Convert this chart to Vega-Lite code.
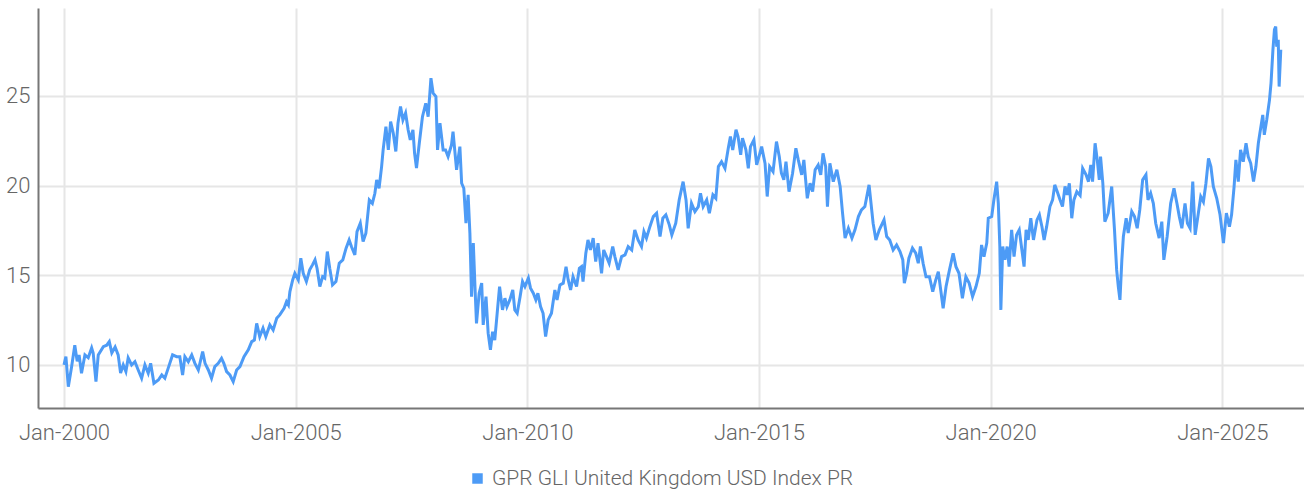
{
  "$schema": "https://vega.github.io/schema/vega-lite/v6.json",
  "width": 1266,
  "height": 400,
  "autosize": {"type": "none"},
  "padding": {"left": 38, "top": 8, "right": 0, "bottom": 85},
  "background": "white",
  "config": {
    "view": {"stroke": null},
    "font": "Roboto",
    "axis": {"labelFont": "Roboto", "labelFontWeight": 300, "labelColor": "#666666", "labelFontSize": 22, "ticks": false, "domainColor": "#777777", "domainWidth": 2, "gridColor": "#e6e6e6", "gridWidth": 2},
    "legend": {"labelFont": "Roboto", "labelFontWeight": 300, "labelColor": "#666666", "labelFontSize": 21, "labelLimit": 0}
  },
  "data": {"values": [
    {"date":"2000-01-01","v":10.0},{"date":"2000-01-16","v":10.46},{"date":"2000-02-04","v":8.79},{"date":"2000-03-01","v":9.9},{"date":"2000-03-26","v":11.1},{"date":"2000-04-14","v":10.2},{"date":"2000-04-29","v":10.56},{"date":"2000-05-18","v":9.54},{"date":"2000-06-14","v":10.56},{"date":"2000-07-10","v":10.4},{"date":"2000-08-06","v":10.95},{"date":"2000-08-18","v":10.67},{"date":"2000-09-09","v":9.07},{"date":"2000-09-27","v":10.56},{"date":"2000-11-06","v":11.02},{"date":"2000-12-03","v":11.1},{"date":"2000-12-23","v":11.3},
    {"date":"2001-01-12","v":10.67},{"date":"2001-02-07","v":11.0},{"date":"2001-03-03","v":10.56},{"date":"2001-03-22","v":9.55},{"date":"2001-04-12","v":10.0},{"date":"2001-05-03","v":9.63},{"date":"2001-05-21","v":10.39},{"date":"2001-06-17","v":10.0},{"date":"2001-07-13","v":10.18},{"date":"2001-08-08","v":9.72},{"date":"2001-09-04","v":9.26},{"date":"2001-09-30","v":10.0},{"date":"2001-10-26","v":9.54},{"date":"2001-11-14","v":10.09},{"date":"2001-12-10","v":8.98},
    {"date":"2002-01-14","v":9.16},{"date":"2002-02-10","v":9.44},{"date":"2002-03-06","v":9.26},{"date":"2002-04-01","v":9.81},{"date":"2002-05-06","v":10.56},{"date":"2002-06-07","v":10.46},{"date":"2002-07-02","v":10.46},{"date":"2002-07-24","v":9.44},{"date":"2002-08-11","v":10.46},{"date":"2002-09-07","v":10.18},{"date":"2002-10-04","v":10.56},{"date":"2002-10-29","v":10.09},{"date":"2002-11-25","v":9.72},{"date":"2002-12-29","v":10.74},
    {"date":"2003-01-17","v":10.09},{"date":"2003-02-12","v":9.72},{"date":"2003-03-09","v":9.26},{"date":"2003-04-04","v":9.91},{"date":"2003-05-01","v":10.09},{"date":"2003-05-27","v":10.37},{"date":"2003-06-14","v":10.09},{"date":"2003-07-06","v":9.63},{"date":"2003-08-01","v":9.44},{"date":"2003-08-27","v":9.07},{"date":"2003-09-23","v":9.72},{"date":"2003-10-19","v":9.91},{"date":"2003-11-20","v":10.46},{"date":"2003-12-24","v":10.84},
    {"date":"2004-01-20","v":11.3},{"date":"2004-02-10","v":11.39},{"date":"2004-02-28","v":12.32},{"date":"2004-03-23","v":11.58},{"date":"2004-04-18","v":12.05},{"date":"2004-05-10","v":11.58},{"date":"2004-06-11","v":12.23},{"date":"2004-07-07","v":11.95},{"date":"2004-08-04","v":12.6},{"date":"2004-08-28","v":12.79},{"date":"2004-10-01","v":13.16},{"date":"2004-10-20","v":13.53},{"date":"2004-11-04","v":13.35},{"date":"2004-11-16","v":14.09},{"date":"2004-12-08","v":14.74},{"date":"2004-12-25","v":15.11},
    {"date":"2005-01-21","v":14.74},{"date":"2005-02-10","v":15.95},{"date":"2005-03-01","v":15.11},{"date":"2005-03-26","v":14.65},{"date":"2005-04-21","v":15.3},{"date":"2005-05-13","v":15.58},{"date":"2005-06-02","v":15.86},{"date":"2005-06-18","v":15.39},{"date":"2005-07-10","v":14.37},{"date":"2005-08-01","v":14.92},{"date":"2005-08-18","v":14.84},{"date":"2005-09-07","v":16.32},{"date":"2005-09-26","v":15.39},{"date":"2005-10-18","v":14.46},{"date":"2005-11-14","v":14.65},{"date":"2005-12-10","v":15.67},
    {"date":"2006-01-07","v":15.86},{"date":"2006-02-02","v":16.51},{"date":"2006-02-26","v":16.97},{"date":"2006-03-16","v":16.6},{"date":"2006-04-12","v":16.14},{"date":"2006-04-29","v":17.43},{"date":"2006-05-25","v":17.9},{"date":"2006-06-16","v":16.88},{"date":"2006-07-08","v":17.35},{"date":"2006-08-04","v":19.2},{"date":"2006-08-28","v":19.01},{"date":"2006-09-17","v":19.57},{"date":"2006-10-01","v":20.32},{"date":"2006-10-20","v":19.85},{"date":"2006-11-09","v":21.06},{"date":"2006-11-21","v":21.99},{"date":"2006-12-13","v":23.29},
    {"date":"2007-01-01","v":21.99},{"date":"2007-01-19","v":23.57},{"date":"2007-02-09","v":22.92},{"date":"2007-03-01","v":21.9},{"date":"2007-03-18","v":23.48},{"date":"2007-04-07","v":24.41},{"date":"2007-04-26","v":23.66},{"date":"2007-05-17","v":24.04},{"date":"2007-06-06","v":23.11},{"date":"2007-06-23","v":22.55},{"date":"2007-07-14","v":23.11},{"date":"2007-07-27","v":21.8},{"date":"2007-08-11","v":20.97},{"date":"2007-09-02","v":22.36},{"date":"2007-09-27","v":23.84},{"date":"2007-10-23","v":24.59},{"date":"2007-11-11","v":23.84},{"date":"2007-12-03","v":25.99},{"date":"2007-12-20","v":25.15},
    {"date":"2008-01-11","v":24.96},{"date":"2008-01-24","v":21.99},{"date":"2008-02-12","v":23.48},{"date":"2008-03-08","v":21.99},{"date":"2008-03-27","v":21.99},{"date":"2008-04-16","v":21.62},{"date":"2008-05-13","v":22.27},{"date":"2008-05-25","v":23.01},{"date":"2008-06-22","v":20.88},{"date":"2008-07-18","v":22.17},{"date":"2008-08-01","v":20.13},{"date":"2008-08-18","v":19.85},{"date":"2008-09-04","v":17.9},{"date":"2008-09-21","v":19.48},{"date":"2008-10-05","v":17.35},{"date":"2008-10-18","v":13.81},{"date":"2008-11-01","v":16.79},{"date":"2008-11-14","v":14.37},{"date":"2008-11-26","v":12.32},{"date":"2008-12-17","v":14.0},
    {"date":"2009-01-06","v":14.56},{"date":"2009-01-18","v":12.23},{"date":"2009-02-09","v":13.81},{"date":"2009-02-26","v":11.77},{"date":"2009-03-16","v":10.84},{"date":"2009-04-02","v":11.86},{"date":"2009-04-19","v":11.39},{"date":"2009-05-08","v":12.88},{"date":"2009-05-27","v":14.37},{"date":"2009-06-19","v":13.07},{"date":"2009-07-08","v":13.72},{"date":"2009-07-24","v":13.25},{"date":"2009-08-16","v":13.63},{"date":"2009-09-08","v":14.18},{"date":"2009-09-24","v":13.07},{"date":"2009-10-13","v":12.88},{"date":"2009-11-05","v":13.81},{"date":"2009-11-24","v":14.65},{"date":"2009-12-13","v":14.37},
    {"date":"2010-01-09","v":14.84},{"date":"2010-01-26","v":14.28},{"date":"2010-02-17","v":14.0},{"date":"2010-03-09","v":13.63},{"date":"2010-03-25","v":14.0},{"date":"2010-04-15","v":13.25},{"date":"2010-05-05","v":12.88},{"date":"2010-05-25","v":11.58},{"date":"2010-06-14","v":12.51},{"date":"2010-07-10","v":12.88},{"date":"2010-08-06","v":14.18},{"date":"2010-08-23","v":13.63},{"date":"2010-09-15","v":14.46},{"date":"2010-10-11","v":14.56},{"date":"2010-11-02","v":15.48},{"date":"2010-11-19","v":14.74},{"date":"2010-12-08","v":14.18},{"date":"2010-12-27","v":14.92},
    {"date":"2011-01-24","v":14.37},{"date":"2011-02-15","v":15.39},{"date":"2011-03-04","v":15.48},{"date":"2011-03-16","v":14.65},{"date":"2011-04-07","v":16.23},{"date":"2011-04-24","v":16.97},{"date":"2011-05-13","v":16.41},{"date":"2011-06-04","v":17.07},{"date":"2011-06-24","v":15.76},{"date":"2011-07-12","v":16.79},{"date":"2011-08-09","v":15.11},{"date":"2011-08-26","v":16.41},{"date":"2011-09-17","v":16.04},{"date":"2011-10-08","v":15.67},{"date":"2011-11-05","v":16.6},{"date":"2011-11-22","v":16.04},{"date":"2011-12-18","v":15.3},
    {"date":"2012-01-14","v":16.04},{"date":"2012-02-10","v":16.14},{"date":"2012-03-06","v":16.6},{"date":"2012-04-03","v":16.41},{"date":"2012-04-27","v":17.53},{"date":"2012-05-23","v":16.97},{"date":"2012-06-19","v":16.6},{"date":"2012-07-08","v":17.43},{"date":"2012-07-28","v":17.07},{"date":"2012-08-24","v":17.71},{"date":"2012-09-20","v":18.27},{"date":"2012-10-16","v":18.46},{"date":"2012-11-12","v":17.16},{"date":"2012-12-04","v":18.18},{"date":"2012-12-28","v":18.37},
    {"date":"2013-01-24","v":17.81},{"date":"2013-02-13","v":17.25},{"date":"2013-03-16","v":17.9},{"date":"2013-04-12","v":19.2},{"date":"2013-05-13","v":20.22},{"date":"2013-06-05","v":19.2},{"date":"2013-06-22","v":17.62},{"date":"2013-07-18","v":19.01},{"date":"2013-08-14","v":18.55},{"date":"2013-09-10","v":18.83},{"date":"2013-09-27","v":19.57},{"date":"2013-10-18","v":18.83},{"date":"2013-11-15","v":19.2},{"date":"2013-12-06","v":18.46},
    {"date":"2014-01-03","v":19.48},{"date":"2014-01-26","v":19.29},{"date":"2014-02-15","v":21.06},{"date":"2014-03-12","v":21.33},{"date":"2014-04-08","v":20.96},{"date":"2014-05-04","v":22.08},{"date":"2014-05-21","v":22.73},{"date":"2014-06-08","v":21.99},{"date":"2014-07-04","v":23.11},{"date":"2014-07-20","v":22.73},{"date":"2014-08-10","v":21.71},{"date":"2014-08-24","v":22.64},{"date":"2014-09-20","v":21.99},{"date":"2014-10-09","v":20.96},{"date":"2014-10-26","v":22.17},{"date":"2014-11-22","v":22.55},{"date":"2014-12-14","v":21.15},
    {"date":"2015-01-05","v":21.71},{"date":"2015-01-22","v":22.17},{"date":"2015-02-18","v":21.24},{"date":"2015-03-07","v":19.39},{"date":"2015-03-26","v":21.06},{"date":"2015-04-22","v":20.78},{"date":"2015-05-19","v":22.45},{"date":"2015-06-10","v":21.62},{"date":"2015-06-27","v":20.69},{"date":"2015-07-16","v":20.32},{"date":"2015-08-02","v":21.33},{"date":"2015-08-26","v":19.66},{"date":"2015-09-23","v":20.69},{"date":"2015-10-19","v":22.08},{"date":"2015-11-07","v":21.43},{"date":"2015-12-04","v":20.6},{"date":"2015-12-21","v":21.43},
    {"date":"2016-01-17","v":19.29},{"date":"2016-02-08","v":20.13},{"date":"2016-02-28","v":19.66},{"date":"2016-03-19","v":20.88},{"date":"2016-04-12","v":21.15},{"date":"2016-05-02","v":20.6},{"date":"2016-05-20","v":21.8},{"date":"2016-06-10","v":21.06},{"date":"2016-06-24","v":18.83},{"date":"2016-07-13","v":21.24},{"date":"2016-08-09","v":20.22},{"date":"2016-09-06","v":20.88},{"date":"2016-10-02","v":19.95},{"date":"2016-10-21","v":18.46},{"date":"2016-11-10","v":17.07},{"date":"2016-12-06","v":17.62},
    {"date":"2017-01-03","v":17.07},{"date":"2017-01-27","v":17.53},{"date":"2017-02-23","v":18.27},{"date":"2017-03-19","v":18.64},{"date":"2017-04-15","v":18.83},{"date":"2017-05-18","v":20.04},{"date":"2017-06-19","v":17.9},{"date":"2017-07-11","v":16.97},{"date":"2017-08-07","v":17.53},{"date":"2017-09-13","v":18.09},{"date":"2017-10-04","v":17.16},{"date":"2017-10-28","v":16.97},{"date":"2017-11-24","v":16.41},{"date":"2017-12-21","v":16.69},
    {"date":"2018-01-17","v":16.32},{"date":"2018-02-08","v":15.86},{"date":"2018-02-20","v":14.56},{"date":"2018-03-10","v":15.11},{"date":"2018-03-28","v":15.95},{"date":"2018-04-25","v":16.51},{"date":"2018-05-21","v":16.23},{"date":"2018-06-10","v":15.67},{"date":"2018-06-27","v":16.6},{"date":"2018-07-18","v":15.67},{"date":"2018-08-10","v":14.92},{"date":"2018-09-06","v":14.92},{"date":"2018-10-02","v":14.09},{"date":"2018-10-26","v":14.74},{"date":"2018-11-15","v":15.2},{"date":"2018-12-04","v":14.18},{"date":"2018-12-23","v":13.16},
    {"date":"2019-01-15","v":14.37},{"date":"2019-02-11","v":15.3},{"date":"2019-03-12","v":16.23},{"date":"2019-04-03","v":15.48},{"date":"2019-04-27","v":15.11},{"date":"2019-05-24","v":13.72},{"date":"2019-06-20","v":14.92},{"date":"2019-07-16","v":14.56},{"date":"2019-08-12","v":13.81},{"date":"2019-09-08","v":14.37},{"date":"2019-10-04","v":15.11},{"date":"2019-10-22","v":16.69},{"date":"2019-11-10","v":16.04},{"date":"2019-12-02","v":16.79},{"date":"2019-12-14","v":18.18},
    {"date":"2020-01-10","v":18.27},{"date":"2020-01-27","v":19.2},{"date":"2020-02-18","v":20.22},{"date":"2020-03-02","v":19.01},{"date":"2020-03-14","v":16.6},{"date":"2020-03-22","v":13.07},{"date":"2020-04-06","v":16.6},{"date":"2020-04-23","v":15.86},{"date":"2020-05-11","v":16.6},{"date":"2020-05-26","v":15.48},{"date":"2020-06-15","v":17.53},{"date":"2020-07-04","v":16.04},{"date":"2020-07-24","v":17.25},{"date":"2020-08-14","v":17.53},{"date":"2020-09-04","v":16.41},{"date":"2020-09-21","v":15.48},{"date":"2020-10-07","v":17.53},{"date":"2020-10-24","v":16.97},{"date":"2020-11-13","v":18.18},{"date":"2020-12-04","v":16.97},
    {"date":"2021-01-01","v":18.09},{"date":"2021-01-20","v":18.37},{"date":"2021-02-09","v":17.71},{"date":"2021-02-26","v":16.97},{"date":"2021-03-18","v":17.71},{"date":"2021-04-13","v":18.83},{"date":"2021-05-04","v":19.2},{"date":"2021-05-21","v":20.04},{"date":"2021-06-10","v":19.66},{"date":"2021-07-02","v":19.2},{"date":"2021-07-21","v":18.83},{"date":"2021-08-10","v":19.95},{"date":"2021-08-27","v":19.48},{"date":"2021-09-13","v":20.13},{"date":"2021-10-02","v":18.18},{"date":"2021-10-19","v":19.2},{"date":"2021-11-11","v":19.66},{"date":"2021-12-07","v":19.45},{"date":"2021-12-27","v":20.96},
    {"date":"2022-01-23","v":20.6},{"date":"2022-02-11","v":20.22},{"date":"2022-03-01","v":21.15},{"date":"2022-03-15","v":20.22},{"date":"2022-04-04","v":22.36},{"date":"2022-04-21","v":21.43},{"date":"2022-05-07","v":20.32},{"date":"2022-05-17","v":21.62},{"date":"2022-06-04","v":20.13},{"date":"2022-06-20","v":17.99},{"date":"2022-07-16","v":18.46},{"date":"2022-08-13","v":19.95},{"date":"2022-09-04","v":17.53},{"date":"2022-09-21","v":15.3},{"date":"2022-10-04","v":14.37},{"date":"2022-10-17","v":13.63},{"date":"2022-11-01","v":15.86},{"date":"2022-11-13","v":17.16},{"date":"2022-12-05","v":18.18},{"date":"2022-12-21","v":17.35},
    {"date":"2023-01-18","v":18.55},{"date":"2023-02-09","v":18.27},{"date":"2023-03-02","v":17.62},{"date":"2023-03-22","v":18.64},{"date":"2023-04-14","v":20.32},{"date":"2023-05-10","v":20.6},{"date":"2023-05-26","v":19.2},{"date":"2023-06-16","v":19.57},{"date":"2023-07-07","v":19.01},{"date":"2023-07-26","v":17.9},{"date":"2023-08-22","v":17.07},{"date":"2023-09-12","v":17.99},{"date":"2023-09-28","v":15.86},{"date":"2023-10-24","v":17.16},{"date":"2023-11-21","v":19.01},{"date":"2023-12-17","v":19.85},
    {"date":"2024-01-09","v":19.01},{"date":"2024-01-28","v":18.27},{"date":"2024-02-17","v":17.62},{"date":"2024-03-13","v":19.01},{"date":"2024-04-01","v":17.9},{"date":"2024-04-22","v":17.62},{"date":"2024-05-13","v":20.22},{"date":"2024-06-01","v":17.25},{"date":"2024-06-26","v":18.46},{"date":"2024-07-15","v":19.39},{"date":"2024-08-05","v":19.1},{"date":"2024-08-25","v":20.13},{"date":"2024-09-14","v":21.52},{"date":"2024-10-03","v":21.06},{"date":"2024-10-22","v":19.95},{"date":"2024-11-18","v":19.29},{"date":"2024-12-14","v":18.37},
    {"date":"2025-01-10","v":16.79},{"date":"2025-02-02","v":18.46},{"date":"2025-02-26","v":17.71},{"date":"2025-03-15","v":18.37},{"date":"2025-04-04","v":19.95},{"date":"2025-04-18","v":21.43},{"date":"2025-05-07","v":20.22},{"date":"2025-05-25","v":21.99},{"date":"2025-06-15","v":21.33},{"date":"2025-07-07","v":22.36},{"date":"2025-07-24","v":21.62},{"date":"2025-08-13","v":21.24},{"date":"2025-09-04","v":20.22},{"date":"2025-09-23","v":21.06},{"date":"2025-10-12","v":22.36},{"date":"2025-10-24","v":22.92},{"date":"2025-11-16","v":23.94},{"date":"2025-11-28","v":22.83},{"date":"2025-12-17","v":23.66},
    {"date":"2026-01-08","v":24.78},{"date":"2026-01-20","v":25.71},{"date":"2026-02-04","v":27.57},{"date":"2026-02-16","v":28.69},{"date":"2026-02-26","v":28.87},{"date":"2026-03-06","v":27.75},{"date":"2026-03-18","v":28.13},{"date":"2026-03-25","v":25.52},{"date":"2026-04-07","v":27.57}
  ]},
  "mark": {"type": "line", "strokeWidth": 3, "interpolate": "linear"},
  "encoding": {
    "x": {
      "field": "date", "type": "temporal", "title": null,
      "scale": {"domain": [{"year": 1999, "month": 6, "date": 10}, {"year": 2026, "month": 10, "date": 7}], "nice": false},
      "axis": {
        "values": [{"year": 2000, "month": 1, "date": 1}, {"year": 2005, "month": 1, "date": 1}, {"year": 2010, "month": 1, "date": 1}, {"year": 2015, "month": 1, "date": 1}, {"year": 2020, "month": 1, "date": 1}, {"year": 2025, "month": 1, "date": 1}],
        "format": "%b-%Y", "labelPadding": 14, "grid": true, "labelFlush": false
      }
    },
    "y": {
      "field": "v", "type": "quantitative", "title": null,
      "scale": {"domain": [7.6, 29.9], "nice": false, "zero": false},
      "axis": {"values": [10, 15, 20, 25], "labelPadding": 8, "grid": true}
    },
    "color": {
      "datum": "GPR GLI United Kingdom USD Index PR",
      "type": "nominal",
      "scale": {"range": ["#4d9bf6"]},
      "legend": {"title": null, "orient": "none", "legendX": 429, "legendY": 460, "direction": "horizontal", "symbolType": "square", "symbolSize": 110, "symbolFillColor": "#4d9bf6", "symbolStrokeColor": "#4d9bf6", "symbolStrokeWidth": 0, "symbolOpacity": 1, "labelOffset": 4}
    }
  }
}
